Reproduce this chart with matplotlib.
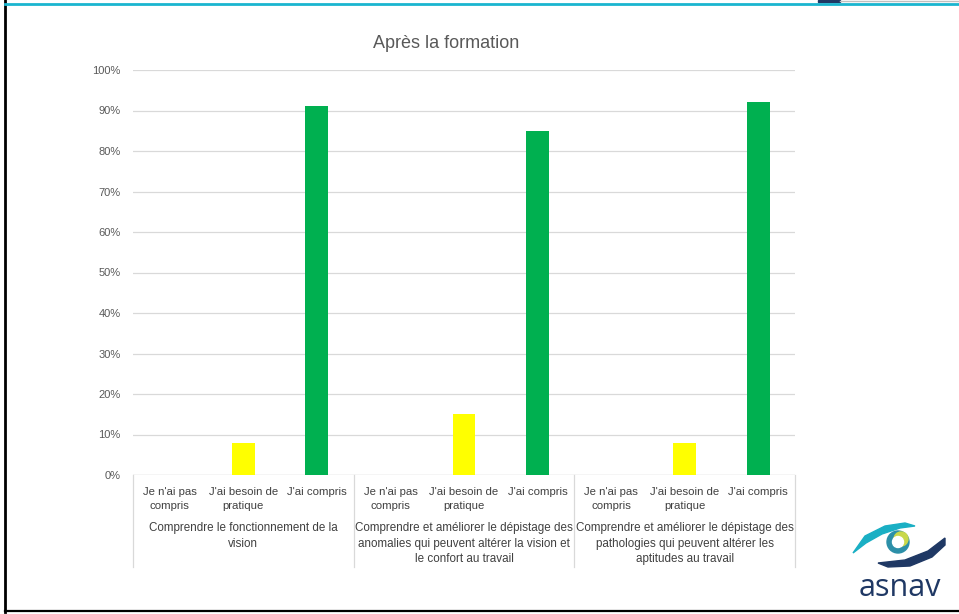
import matplotlib
matplotlib.use("Agg")
import matplotlib.pyplot as plt
from matplotlib.patches import Circle, Polygon, Rectangle
import numpy as np

plt.rcParams['font.family'] = ['Liberation Sans', 'DejaVu Sans']

title = "Après la formation"
sub_labels = ["Je n'ai pas\ncompris", "J'ai besoin de\npratique", "J'ai compris"]
group_labels = ["Comprendre le fonctionnement de la\nvision",
                "Comprendre et améliorer le dépistage des\nanomalies qui peuvent altérer la vision et\nle confort au travail",
                "Comprendre et améliorer le dépistage des\npathologies qui peuvent altérer les\naptitudes au travail"]
values = [0, 8, 91, 0, 15, 85, 0, 8, 92]
colors = ["#FF0000", "#FFFF00", "#00B050"]
yticks = [0, 10, 20, 30, 40, 50, 60, 70, 80, 90, 100]

W, H = 959, 614
fig = plt.figure(figsize=(W/100, H/100), dpi=100)

L, R, T, B = 133, 795, 70, 475
ax = fig.add_axes([L/W, 1-B/H, (R-L)/W, (B-T)/H])
n = len(values)
x = np.arange(n)
ax.bar(x, values, width=0.31, color=[colors[i % 3] for i in range(n)], zorder=3)
ax.set_xlim(-0.5, n-0.5)
ax.set_ylim(0, 100)
ax.set_yticks(yticks)
ax.set_yticklabels([f"{v}%" for v in yticks], fontsize=8, color="#595959")
ax.tick_params(axis='y', length=0, pad=9)
ax.tick_params(axis='x', length=0, labelbottom=False)
ax.grid(axis='y', color="#D9D9D9", lw=0.9, zorder=0)
for s in ax.spines.values():
    s.set_visible(False)
ax.axhline(0, color="#D9D9D9", lw=0.9, zorder=1)
fig.text(446/W, 1-43/H, title, ha='center', va='center', fontsize=13, color="#595959")

tr = ax.get_xaxis_transform()
px = 1/(B-T)
for i in range(n):
    ax.text(x[i], -(487-475)*px, sub_labels[i % 3], transform=tr, ha='center', va='top',
            fontsize=8.2, color="#404040", linespacing=1.5, clip_on=False)
for g in range(3):
    cx = 3*g + 1
    ax.text(cx, -(522-475)*px, group_labels[g], transform=tr,
            ha='center', va='top', fontsize=8.4, color="#404040", linespacing=1.4, clip_on=False)
for xb in [-0.5, 2.5, 5.5, 8.5]:
    ax.plot([xb, xb], [0, -(567-475)*px], transform=tr, color="#D9D9D9", lw=0.9, clip_on=False)

# frame / decorations in pixel coordinates
ov = fig.add_axes([0, 0, 1, 1], zorder=-1)
ov.set_xlim(0, W); ov.set_ylim(H, 0); ov.axis('off')
ov.plot([5, 5], [0, 612], color="black", lw=2)
ov.plot([5, W], [611, 611], color="black", lw=1.6)
ov.plot([5, W], [4, 4], color="#1AB5CF", lw=2)
ov.add_patch(Rectangle((818, 0), 22, 1.5, color="#1F3864"))
ov.plot([840, W], [1, 1], color="#BFBFBF", lw=1)

lg = fig.add_axes([0, 0, 1, 1], zorder=5)
lg.set_xlim(0, W); lg.set_ylim(H, 0); lg.axis('off')
# teal arc
lg.add_patch(Polygon([[853, 553], [865, 536], [885, 526], [905, 523], [915, 526],
                      [900, 528], [882, 534], [866, 543]], closed=True, color="#1AAFC4"))
# navy swoosh
lg.add_patch(Polygon([[878, 563], [905, 560], [928, 551], [945, 538], [945, 545],
                      [932, 557], [910, 566], [888, 567]], closed=True, color="#1F3864"))
# iris
lg.add_patch(Circle((898, 542), 11, color="#2C8FA8"))
lg.add_patch(Circle((901, 539), 7, color="#C9D84A"))
lg.add_patch(Circle((898, 542), 5.5, color="white"))
lg.text(900, 588, "asnav", ha='center', va='center', fontsize=22, color="#1F3864",
        family=['Open Sans', 'DejaVu Sans'])

fig.savefig("out.png", dpi=100)
